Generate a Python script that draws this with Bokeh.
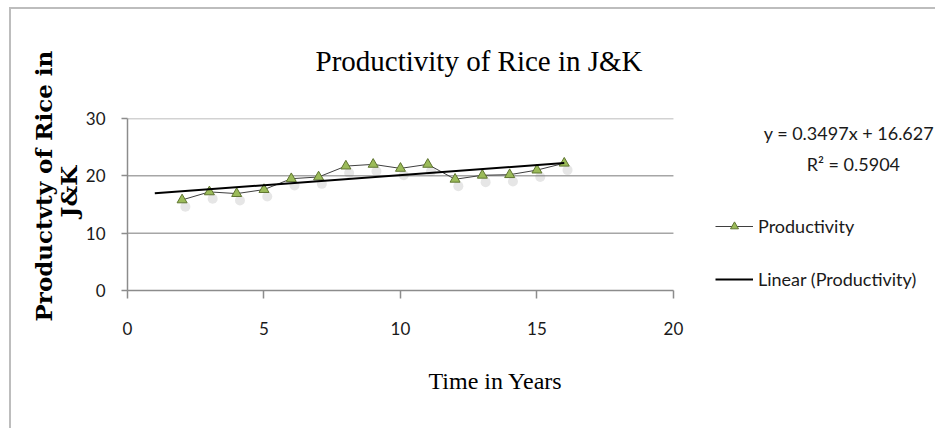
from bokeh.plotting import figure
from bokeh.models import Label, Legend, LegendItem, ColumnDataSource, Range1d, Title
from bokeh.transform import dodge
from bokeh.embed import file_html
from bokeh.resources import INLINE

# ---- data ----
years = [2, 3, 4, 5, 6, 7, 8, 9, 10, 11, 12, 13, 14, 15, 16]
productivity = [15.8, 17.2, 16.9, 17.6, 19.5, 19.8, 21.7, 22.0, 21.3, 22.0,
                19.4, 20.1, 20.2, 21.0, 22.2]
trend_slope = 0.3497
trend_intercept = 16.627
trend_r2 = 0.5904
trend_x = [1, 16]
trend_y = [trend_slope * x + trend_intercept for x in trend_x]
x_ticks = [0, 5, 10, 15, 20]
y_ticks = [0, 10, 20, 30]
title_text = "Productivity of Rice in J&K"
x_title = "Time in Years"
y_title_1 = "Productvty of Rice in"
y_title_2 = "J&K"
series_name = "Productivity"
trend_name = "Linear (Productivity)"

src = ColumnDataSource(dict(years=years, productivity=productivity))

p = figure(width=935, height=428,
           x_range=Range1d(x_ticks[0], 29.60), y_range=Range1d(y_ticks[0], y_ticks[-1]),
           output_backend="svg", toolbar_location=None,
           min_border_left=127, min_border_right=0,
           min_border_top=117, min_border_bottom=138)
p.styles = {"box-shadow": "inset 9px 7px 0 0 white, inset 11px 9px 0 0 #bdbdbd"}
p.outline_line_color = None
p.background_fill_color = "white"
p.border_fill_alpha = 0

p.xaxis.ticker = x_ticks
p.yaxis.ticker = y_ticks
p.xaxis.bounds = (x_ticks[0], x_ticks[-1])
p.yaxis.bounds = (y_ticks[0], y_ticks[-1])
for ax in (p.xaxis[0], p.yaxis[0]):
    ax.axis_line_color = "#8c8c8c"
    ax.axis_line_width = 1.5
    ax.major_tick_line_color = "#8c8c8c"
    ax.major_tick_line_width = 1.5
    ax.minor_tick_line_color = None
    ax.major_tick_in = 0
    ax.major_label_text_font = "Lato"
    ax.major_label_text_font_size = "17px"
    ax.major_label_text_color = "#1a1a1a"
p.xaxis.major_tick_out = 8
p.yaxis.major_tick_out = 6
p.xaxis.major_label_standoff = 23
p.yaxis.major_label_standoff = 16
p.xgrid.grid_line_color = None
p.ygrid.grid_line_color = None

# horizontal gridlines, limited to the x-axis extent
p.segment(x0=[x_ticks[0]] * (len(y_ticks) - 1), y0=y_ticks[1:],
          x1=[x_ticks[-1]] * (len(y_ticks) - 1), y1=y_ticks[1:],
          line_color="#a6a6a6", line_width=1.5)

# soft shadows under the markers
p.scatter(dodge("years", 0.12, range=p.x_range), dodge("productivity", -1.2, range=p.y_range),
          source=src, marker="circle", size=10, fill_color="#808080", fill_alpha=0.2,
          line_color=None)

line_r = p.line("years", "productivity", source=src, line_color="#3f3f3f", line_width=1)
mark_r = p.scatter("years", "productivity", source=src, marker="triangle", size=10,
                   fill_color="#9bbb59", line_color="#5f7530", line_width=1)
trend_r = p.line(trend_x, trend_y, line_color="black", line_width=2)

legend = Legend(items=[LegendItem(label=series_name, renderers=[line_r, mark_r]),
                       LegendItem(label=trend_name, renderers=[trend_r])],
                location=(588, 0), padding=0, margin=0, spacing=31,
                glyph_width=38, glyph_height=20, label_height=20, label_standoff=5,
                border_line_color=None, background_fill_alpha=0,
                label_text_font="Lato", label_text_font_size="18px",
                label_text_color="#1a1a1a")
p.add_layout(legend, "center")

# chart title
p.title = Title(text=title_text, align="left", offset=188, standoff=84,
                text_font="Liberation Serif", text_font_style="normal",
                text_font_size="29px", text_color="black")

# x-axis title
p.add_layout(Title(text=x_title, align="left", offset=301, standoff=60,
                   vertical_align="top", text_font="Liberation Serif",
                   text_font_style="normal", text_font_size="24px",
                   text_color="black"), "below")

# y-axis title (two lines)
p.add_layout(Title(text=y_title_2, align="left", offset=73, standoff=1,
                   text_font="DejaVu Serif", text_font_style="bold",
                   text_font_size="23px", text_color="black"), "left")
p.add_layout(Title(text=y_title_1, align="left", offset=-31, standoff=-8,
                   text_font="DejaVu Serif", text_font_style="bold",
                   text_font_size="23px", text_color="black"), "left")

# trend equation
p.add_layout(Label(x=29.55, y=27.4, text=f"y = {trend_slope}x + {trend_intercept}",
                   text_align="right", text_baseline="middle", text_font="Lato",
                   text_font_size="18px", text_color="#1a1a1a"))
p.add_layout(Label(x=26.59, y=22.0, text=f"R² = {trend_r2}",
                   text_align="center", text_baseline="middle", text_font="Lato",
                   text_font_size="18px", text_color="#1a1a1a"))

open("out.html", "w").write(file_html(p, INLINE))
